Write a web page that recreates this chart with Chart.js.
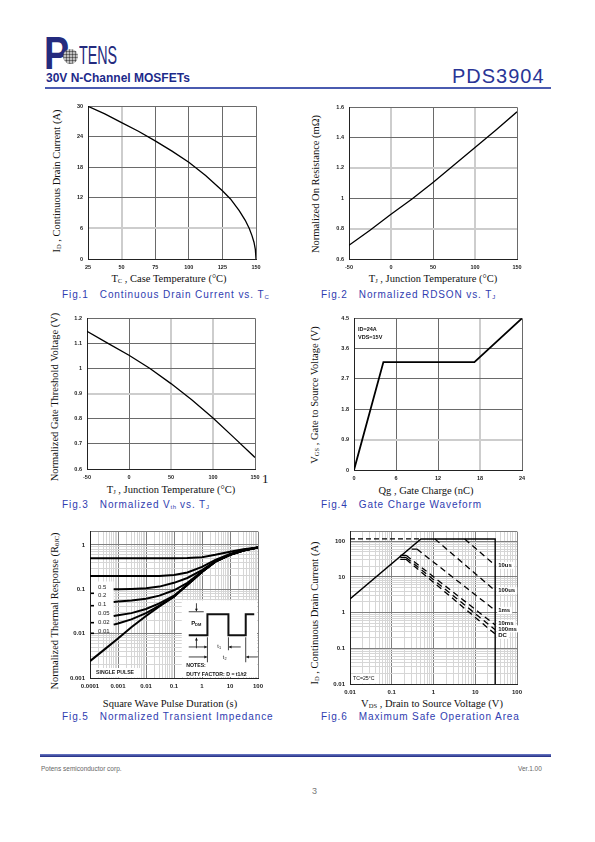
<!DOCTYPE html>
<html>
<head>
<meta charset="utf-8">
<script src="https://cdn.jsdelivr.net/npm/chart.js@4.4.1/dist/chart.umd.min.js"></script>
<style>
  html, body { margin: 0; padding: 0; background: #fff; }
  #page { position: relative; width: 595px; height: 842px; overflow: hidden; background: #fff;
          font-family: 'Liberation Sans', Arial, sans-serif; }
  canvas { position: absolute; }
  .t { position: absolute; white-space: nowrap; line-height: 1; }
  .ax { font-family: 'Liberation Serif', 'Times New Roman', serif; font-size: 10.5px; color: #111;
        transform: translate(-50%, -50%); }
  .ay { font-family: 'Liberation Serif', 'Times New Roman', serif; font-size: 10.5px; color: #111;
        transform: translate(-50%, -50%) rotate(-90deg); }
  .ax sub, .ay sub { font-size: 6.5px; vertical-align: -1px; }
  .cap { font-size: 10px; color: #2f3db0; letter-spacing: 0.9px; transform: translateY(-50%); }
  .cap sub { font-size: 6px; vertical-align: -1px; letter-spacing: 0.4px; }
  #logoP { left: 44px; top: 25px; font: bold 47px 'Liberation Sans', Arial, sans-serif; color: #242b7e;
           transform: scaleX(0.8); transform-origin: left top; }
  #globe { position: absolute; left: 63px; top: 49px; width: 15px; height: 15px; border-radius: 50%;
           background: repeating-linear-gradient(0deg, #888 0 1px, #ddd 1px 3px),
                       repeating-linear-gradient(90deg, #888 0 1px, #ddd 1px 3px);
           background-blend-mode: multiply; }
  #logoTens { left: 79px; top: 40px; font: 26px 'Liberation Sans', Arial, sans-serif; color: #242b7e;
              transform: scaleX(0.55); transform-origin: left top; }
  #series { left: 46px; top: 71px; font: bold 12px 'Liberation Sans', Arial, sans-serif; color: #1d2a8a; }
  #part { left: 452px; top: 65px; font: 20px 'Liberation Sans', Arial, sans-serif; color: #2a3596; letter-spacing: 1px; }
  #topRule { position: absolute; left: 45px; top: 87px; width: 506px; height: 1.5px; background: #4a5bb0; }
  #footRule { position: absolute; left: 40px; top: 754px; width: 511px; height: 3px;
              background: linear-gradient(#6d7cc8, #1f2a80); }
  .foot { font-size: 6.5px; color: #666; transform: translateY(-50%); }
</style>
</head>
<body>
<div id="page">
  <div class="t" id="logoP">P</div>
  <div id="globe"></div>
  <div class="t" id="logoTens">TENS</div>
  <div class="t" id="series">30V N-Channel MOSFETs</div>
  <div class="t" id="part">PDS3904</div>
  <div id="topRule"></div>

  <!-- Fig.1 -->
  <div class="t ay" style="left:57px;top:181px">I<sub>D</sub> , Continuous Drain Current (A)</div>
  <div class="t ax" style="left:169px;top:279px">T<sub>C</sub> , Case Temperature (°C)</div>
  <div class="t cap" style="left:62px;top:295px">Fig.1&nbsp;&nbsp;&nbsp;Continuous Drain Current vs. T<sub>C</sub></div>
  <!-- Fig.2 -->
  <div class="t ay" style="left:316px;top:184px">Normalized On Resistance (mΩ)</div>
  <div class="t ax" style="left:433px;top:279px">T<sub>J</sub> , Junction Temperature (°C)</div>
  <div class="t cap" style="left:321px;top:295px">Fig.2&nbsp;&nbsp;&nbsp;Normalized RDSON vs. T<sub>J</sub></div>
  <!-- Fig.3 -->
  <div class="t ay" style="left:55px;top:397px">Normalized Gate Threshold Voltage (V)</div>
  <div class="t ax" style="left:171px;top:490px">T<sub>J</sub> , Junction Temperature (°C)</div>
  <div class="t" style="left:262px;top:471px;font:13px 'Liberation Serif',serif;color:#111">1</div>
  <div class="t cap" style="left:62px;top:505px">Fig.3&nbsp;&nbsp;&nbsp;Normalized V<sub>th</sub> vs. T<sub>J</sub></div>
  <!-- Fig.4 -->
  <div class="t ay" style="left:315px;top:395px">V<sub>GS</sub> , Gate to Source Voltage (V)</div>
  <div class="t ax" style="left:426px;top:491px">Qg , Gate Charge (nC)</div>
  <div class="t cap" style="left:321px;top:505px">Fig.4&nbsp;&nbsp;&nbsp;Gate Charge Waveform</div>
  <!-- Fig.5 -->
  <div class="t ay" style="left:55px;top:611px">Normalized Thermal Response (R<sub>θJC</sub>)</div>
  <div class="t ax" style="left:170px;top:704px">Square Wave Pulse Duration (s)</div>
  <div class="t cap" style="left:62px;top:717px">Fig.5&nbsp;&nbsp;&nbsp;Normalized Transient Impedance</div>
  <!-- Fig.6 -->
  <div class="t ay" style="left:315px;top:613px">I<sub>D</sub> , Continuous Drain Current (A)</div>
  <div class="t ax" style="left:432px;top:704px">V<sub>DS</sub> , Drain to Source Voltage (V)</div>
  <div class="t cap" style="left:321px;top:717px">Fig.6&nbsp;&nbsp;&nbsp;Maximum Safe Operation Area</div>

  <div id="footRule"></div>
  <div class="t foot" style="left:41px;top:769px">Potens semiconductor corp.</div>
  <div class="t foot" style="left:518px;top:769px">Ver.1.00</div>
  <div class="t" style="left:312px;top:787px;font-size:9px;color:#777">3</div>
</div>

<script>
// Fig.1  drain current vs case temperature
const caseTemp = [25, 37.5, 50, 62.5, 75, 87.5, 100, 112.5, 125, 131, 137.5, 142, 145, 147, 148.5, 149.5, 150];
const drainCurrent = [30, 28.5, 26.8, 25.1, 23.2, 21.2, 19.0, 16.4, 13.4, 11.8, 9.5, 7.6, 6.0, 4.6, 3.3, 1.9, 0];

// Fig.2 / Fig.3  normalized values vs junction temperature
const junctionTemp = [-50, -25, 0, 25, 50, 75, 100, 125, 150];
const rdsonNorm = [0.69, 0.79, 0.895, 0.995, 1.105, 1.22, 1.335, 1.45, 1.57];
const vthNorm = [1.148, 1.10, 1.053, 1.0, 0.94, 0.875, 0.803, 0.725, 0.646];

// Fig.4  gate charge
const gateCharge = [0, 4.2, 17.2, 24];
const gateVoltage = [0, 3.2, 3.2, 4.5];

// Fig.5  transient thermal impedance
const pulseTime = [0.0001, 0.0003, 0.001, 0.003, 0.01, 0.03, 0.1, 0.3, 1, 3, 10, 30, 100];
const zthD50 = [0.5, 0.5, 0.5, 0.5, 0.5, 0.5, 0.5, 0.505, 0.53, 0.6, 0.7, 0.8, 0.88];
const zthD20 = [0.2, 0.2, 0.2, 0.2, 0.2, 0.2, 0.21, 0.24, 0.32, 0.46, 0.63, 0.77, 0.88];
const zthSingle = [0.0024, 0.0042, 0.0078, 0.014, 0.025, 0.041, 0.068, 0.13, 0.25, 0.42, 0.6, 0.75, 0.88];
const pulseTimeD = [0.0007, 0.001, 0.003, 0.01, 0.03, 0.1, 0.3, 1, 3, 10, 30, 100];
const zthD10 = [0.1, 0.1, 0.102, 0.106, 0.115, 0.14, 0.18, 0.27, 0.43, 0.6, 0.75, 0.88];
const zthD05 = [0.052, 0.053, 0.056, 0.061, 0.072, 0.095, 0.14, 0.25, 0.42, 0.6, 0.75, 0.88];
const zthD02 = [0.025, 0.026, 0.029, 0.036, 0.048, 0.072, 0.125, 0.245, 0.42, 0.6, 0.75, 0.88];
const zthD01 = [0.016, 0.017, 0.021, 0.029, 0.043, 0.068, 0.125, 0.245, 0.42, 0.6, 0.75, 0.88];
const dutyLabels = ['0.5', '0.2', '0.1', '0.05', '0.02', '0.01'];

// Fig.6  safe operating area
const soaLimitV = [0.01, 0.5, 30, 30];
const soaLimitI = [2.4, 115, 115, 0.01];
const soaCapV = [0.01, 0.5];
const soaCapI = [115, 115];
const soaNames = ['10us', '100us', '1ms', '10ms', '100ms', 'DC'];
const soaV = [[5.6, 30], [1.08, 30], [0.3, 0.4, 30], [0.16, 0.22, 30], [0.16, 0.22, 30], [0.16, 0.22, 30]];
const soaI = [[115, 21], [115, 4.1], [60, 60, 1.15], [40, 40, 0.45], [35, 35, 0.33], [31, 31, 0.25]];
const soaLabelI = [21, 4.1, 1.15, 0.5, 0.35, 0.23];

const PAD = { l: 34, r: 14, t: 8, b: 16 };
const FONT = "'Liberation Sans', Arial, sans-serif";
Chart.defaults.font.family = FONT;
Chart.defaults.color = '#222';

const pts = (xs, ys) => xs.map((x, i) => ({ x: x, y: ys[i] }));
const curve = (xs, ys, width, extra) => Object.assign({
    data: pts(xs, ys), showLine: true, borderColor: '#000', borderWidth: width,
    pointRadius: 0, tension: 0, fill: false
}, extra || {});
const near = (list, v) => list.some(l => Math.abs(l - v) < 1e-6);

const decadeLabel = (v) => {
    const lg = Math.log10(v), e = Math.round(lg);
    if (Math.abs(lg - e) > 1e-6) return '';
    return e < 0 ? Math.pow(10, e).toFixed(-e) : String(Math.pow(10, e));
};

// 1..9 x 10^n grid, no 1.5 steps
const logTicks = (scale) => {
    const out = [];
    const lo = Math.floor(Math.log10(scale.min) + 1e-9), hi = Math.ceil(Math.log10(scale.max) - 1e-9);
    for (let e = lo; e <= hi; e++) {
        for (let m = 1; m < 10; m++) {
            const v = +(m * Math.pow(10, e)).toPrecision(6);
            if (v >= scale.min * (1 - 1e-9) && v <= scale.max * (1 + 1e-9)) out.push({ value: v });
        }
    }
    if (out[out.length - 1].value < scale.max * (1 - 1e-9)) out.push({ value: scale.max });
    scale.ticks = out;
};

const fitAxis = (axis) => (s) => { if (axis === 'x') s.height = PAD.b; else s.width = PAD.l; };

const linearAxis = (axis, min, max, step, light) => ({
    type: 'linear', min: min, max: max,
    ticks: { stepSize: step, font: { size: 5.5, weight: 'bold' }, padding: 5, autoSkip: false, maxRotation: 0, color: '#222',
             callback: v => String(+Number(v).toFixed(3)) },
    grid: {
        drawTicks: false,
        color: c => (c.tick && near(light, c.tick.value)) ? '#cdcdcd' : '#6a6a6a',
        lineWidth: c => (c.tick && near(light, c.tick.value)) ? 2 : 1
    },
    border: { display: true, color: '#222', width: 1 },
    afterFit: fitAxis(axis)
});

const logAxis = (axis, min, max) => ({
    type: 'logarithmic', min: min, max: max,
    afterBuildTicks: logTicks,
    ticks: { font: { size: 6, weight: 'bold' }, padding: 5, autoSkip: false, maxRotation: 0, color: '#222',
             callback: v => decadeLabel(v) },
    grid: {
        drawTicks: false,
        color: c => {
            if (!c.tick) return '#d6d6d6';
            if (decadeLabel(c.tick.value) !== '' || Math.abs(c.tick.value - max) < 1e-9) return '#808080';
            return '#d6d6d6';
        },
        lineWidth: 1
    },
    border: { display: true, color: '#222', width: 1 },
    afterFit: fitAxis(axis)
});

const makeChart = (box, cfg) => {
    const cv = document.createElement('canvas');
    const w = box.r - box.l + PAD.l + PAD.r, h = box.b - box.t + PAD.t + PAD.b;
    cv.width = w; cv.height = h;
    cv.style.left = (box.l - PAD.l) + 'px';
    cv.style.top = (box.t - PAD.t) + 'px';
    cv.style.width = w + 'px';
    cv.style.height = h + 'px';
    document.getElementById('page').appendChild(cv);
    cfg.options = Object.assign({
        responsive: false, animation: false, devicePixelRatio: 1,
        layout: { padding: { left: 0, right: PAD.r, top: PAD.t, bottom: 0 } },
        plugins: { legend: { display: false }, tooltip: { enabled: false } }
    }, cfg.options);
    return new Chart(cv.getContext('2d'), cfg);
};

const arrow = (ctx, x1, y1, x2, y2) => {
    const a = Math.atan2(y2 - y1, x2 - x1), s = 3;
    ctx.beginPath(); ctx.moveTo(x1, y1); ctx.lineTo(x2, y2); ctx.stroke();
    ctx.beginPath();
    ctx.moveTo(x2, y2);
    ctx.lineTo(x2 - s * Math.cos(a - 0.5), y2 - s * Math.sin(a - 0.5));
    ctx.lineTo(x2 - s * Math.cos(a + 0.5), y2 - s * Math.sin(a + 0.5));
    ctx.closePath(); ctx.fill();
};

// ---------- Fig.1 ----------
makeChart({ l: 88, t: 106, r: 256, b: 259 }, {
    type: 'scatter',
    data: { datasets: [curve(caseTemp, drainCurrent, 1.3)] },
    options: { scales: {
        x: linearAxis('x', 25, 150, 25, [50]),
        y: linearAxis('y', 0, 30, 6, [6])
    } }
});

// ---------- Fig.2 ----------
makeChart({ l: 349, t: 107, r: 517, b: 259 }, {
    type: 'scatter',
    data: { datasets: [curve(junctionTemp, rdsonNorm, 1.3)] },
    options: { scales: {
        x: linearAxis('x', -50, 150, 50, [0, 100]),
        y: linearAxis('y', 0.6, 1.6, 0.2, [0.8, 1.2])
    } }
});

// ---------- Fig.3 ----------
makeChart({ l: 87, t: 318, r: 255, b: 469 }, {
    type: 'scatter',
    data: { datasets: [curve(junctionTemp, vthNorm, 1.3)] },
    options: { scales: {
        x: linearAxis('x', -50, 150, 50, [50, 100]),
        y: linearAxis('y', 0.6, 1.2, 0.1, [0.9])
    } }
});

// ---------- Fig.4 ----------
makeChart({ l: 354, t: 318, r: 522, b: 470 }, {
    type: 'scatter',
    data: { datasets: [curve(gateCharge, gateVoltage, 1.8)] },
    options: { scales: {
        x: linearAxis('x', 0, 24, 6, [18]),
        y: linearAxis('y', 0, 4.5, 0.9, [0.9])
    } },
    plugins: [{
        id: 'gcNotes',
        afterDatasetsDraw(chart) {
            const { ctx, chartArea: a } = chart;
            ctx.save();
            ctx.font = "bold 5.5px " + FONT;
            ctx.fillStyle = '#111';
            ctx.textBaseline = 'middle';
            ctx.fillText('ID=24A', a.left + 4, a.top + 11);
            ctx.fillText('VDS=15V', a.left + 4, a.top + 19);
            ctx.restore();
        }
    }]
});

// ---------- Fig.5 ----------
makeChart({ l: 90, t: 531, r: 258, b: 678 }, {
    type: 'scatter',
    data: { datasets: [
        curve(pulseTime, zthD50, 2),
        curve(pulseTime, zthD20, 2),
        curve(pulseTimeD, zthD10, 2),
        curve(pulseTimeD, zthD05, 2),
        curve(pulseTimeD, zthD02, 2),
        curve(pulseTimeD, zthD01, 2),
        curve(pulseTime, zthSingle, 2)
    ] },
    options: { scales: {
        x: logAxis('x', 0.0001, 100),
        y: logAxis('y', 0.001, 2)
    } },
    plugins: [{
        id: 'zthBoxes',
        beforeDatasetsDraw(chart) {
            const { ctx, chartArea: a, scales: { x, y } } = chart;
            ctx.save();
            ctx.fillStyle = '#fff';
            // duty legend box
            const lt = y.getPixelForValue(0.15), lb = y.getPixelForValue(0.011);
            ctx.fillRect(a.left + 1, lt, x.getPixelForValue(0.0007) - a.left - 1, lb - lt);
            // single pulse box
            ctx.fillRect(a.left + 1, a.bottom - 10, 50, 9.5);
            // inset box
            const bx = a.left + 0.546 * (a.right - a.left), by = a.top + 0.469 * (a.bottom - a.top);
            ctx.fillRect(bx, by, a.right - 1 - bx, a.bottom - 1 - by);
            ctx.restore();
        },
        afterDatasetsDraw(chart) {
            const { ctx, chartArea: a } = chart;
            ctx.save();
            ctx.fillStyle = '#222';
            ctx.strokeStyle = '#111';
            ctx.textBaseline = 'middle';
            ctx.font = "6px " + FONT;
            const lt = chart.scales.y.getPixelForValue(0.15);
            dutyLabels.forEach((t, i) => ctx.fillText(t, a.left + 8, lt + 5.5 + i * 8.8));
            ctx.fillStyle = '#000';
            [11, 23.4, 40.4, 51].forEach(dy => ctx.fillRect(a.left + 1, lt + dy, 3, 1.6));
            ctx.fillStyle = '#222';
            ctx.font = "bold 5.2px " + FONT;
            ctx.fillText('SINGLE PULSE', a.left + 6, a.bottom - 5);

            // duty-cycle sketch
            const bx = a.left + 0.546 * (a.right - a.left), by = a.top + 0.469 * (a.bottom - a.top);
            ctx.lineWidth = 2;
            ctx.beginPath();
            [[7, 35], [25.7, 35], [25.7, 14], [46.7, 14], [46.7, 35], [64, 35], [64, 14], [72.5, 14]]
                .forEach(([dx, dy], i) => i ? ctx.lineTo(bx + dx, by + dy) : ctx.moveTo(bx + dx, by + dy));
            ctx.stroke();
            ctx.lineWidth = 0.8;
            ctx.beginPath();
            ctx.moveTo(bx + 7, by + 11.5); ctx.lineTo(bx + 22, by + 11.5);
            ctx.moveTo(bx + 25.7, by + 37); ctx.lineTo(bx + 25.7, by + 62);
            ctx.moveTo(bx + 46.7, by + 37); ctx.lineTo(bx + 46.7, by + 50);
            ctx.moveTo(bx + 64, by + 37); ctx.lineTo(bx + 64, by + 62);
            ctx.stroke();
            ctx.fillStyle = '#111';
            arrow(ctx, bx + 14.7, by + 3, bx + 14.7, by + 11);
            arrow(ctx, bx + 14.7, by + 48, bx + 14.7, by + 37.5);
            arrow(ctx, bx + 7, by + 46.7, bx + 25.2, by + 46.7);
            arrow(ctx, bx + 59, by + 46.7, bx + 47.2, by + 46.7);
            arrow(ctx, bx + 7, by + 56.7, bx + 25.2, by + 56.7);
            arrow(ctx, bx + 76, by + 56.7, bx + 64.5, by + 56.7);
            ctx.font = "bold 6px " + FONT;
            ctx.fillText('P', bx + 9.5, by + 23.5);
            ctx.font = "bold 4px " + FONT;
            ctx.fillText('DM', bx + 13.3, by + 25);
            ctx.font = "5.5px " + FONT;
            ctx.fillText('t', bx + 35.5, by + 46.7);
            ctx.fillText('t', bx + 41, by + 57.5);
            ctx.font = "3.8px " + FONT;
            ctx.fillText('1', bx + 37.2, by + 48);
            ctx.fillText('2', bx + 42.7, by + 59);
            ctx.font = "bold 5.2px " + FONT;
            ctx.fillText('NOTES:', bx + 4.5, by + 65.7);
            ctx.fillText('DUTY FACTOR: D = t1/t2', bx + 4.5, by + 74.5);
            ctx.restore();
        }
    }]
});

// ---------- Fig.6 ----------
const soaSets = [
    curve(soaLimitV, soaLimitI, 1.4),
    curve(soaCapV, soaCapI, 1.2, { borderDash: [5, 3] })
];
soaNames.forEach((n, k) => {
    const stub = soaV[k].length === 3;
    soaSets.push(curve(soaV[k], soaI[k], 1.3, {
        segment: { borderDash: c => (stub && c.p0DataIndex === 0) ? [] : [6, 4] }
    }));
});

makeChart({ l: 350, t: 531, r: 517, b: 684 }, {
    type: 'scatter',
    data: { datasets: soaSets },
    options: { scales: {
        x: logAxis('x', 0.01, 100),
        y: logAxis('y', 0.01, 185)
    } },
    plugins: [{
        id: 'soaLabels',
        afterDatasetsDraw(chart) {
            const { ctx, chartArea: a, scales: { x, y } } = chart;
            ctx.save();
            ctx.font = "bold 6px " + FONT;
            ctx.textBaseline = 'middle';
            const lx = x.getPixelForValue(30) + 2;
            soaNames.forEach((n, k) => {
                const py = y.getPixelForValue(soaLabelI[k]);
                const w = ctx.measureText(n).width;
                ctx.fillStyle = '#fff';
                ctx.fillRect(lx, py - 3.5, w + 3, 7);
                ctx.fillStyle = '#111';
                ctx.fillText(n, lx + 1, py);
            });
            ctx.fillStyle = '#fff';
            ctx.fillRect(a.left + 1, a.bottom - 10, 27, 9.5);
            ctx.fillStyle = '#111';
            ctx.font = "5.2px " + FONT;
            ctx.fillText('TC=25°C', a.left + 3, a.bottom - 5);
            ctx.restore();
        }
    }]
});
</script>
</body>
</html>
